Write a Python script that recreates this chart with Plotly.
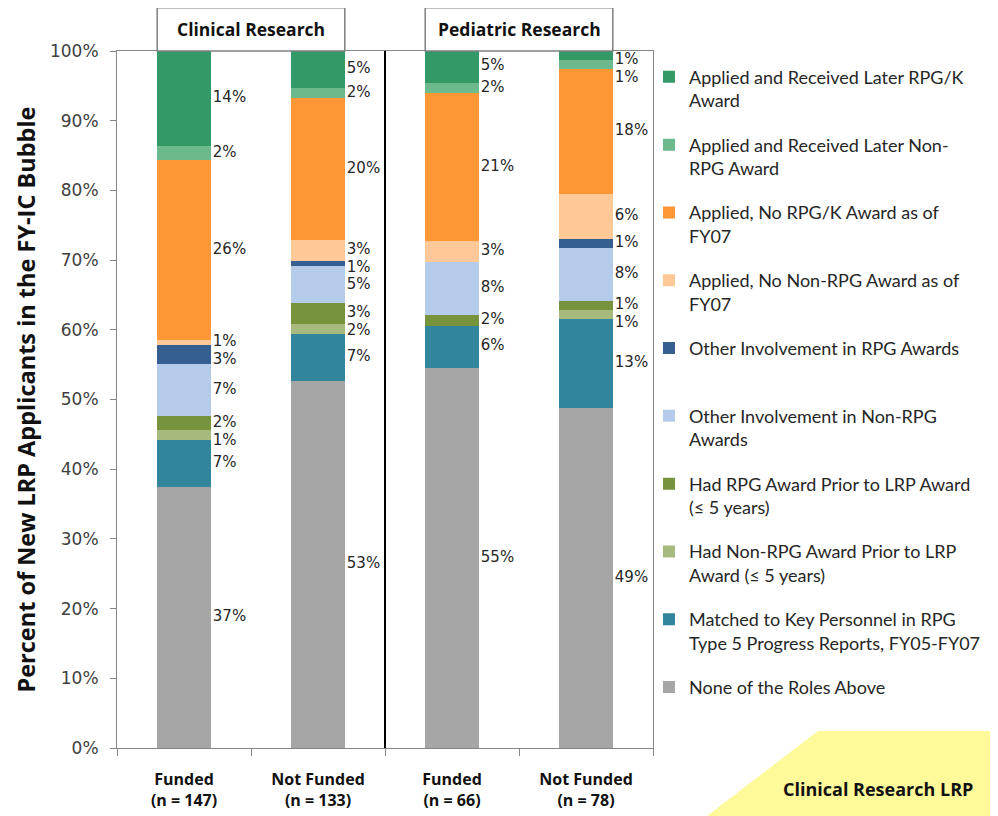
import plotly.graph_objects as go

# ---------------- data ----------------
groups = ["Funded", "Not Funded", "Funded", "Not Funded"]
n_values = [147, 133, 66, 78]
panels = ["Clinical Research", "Pediatric Research"]

# series listed bottom -> top of each stack (percent of applicants)
none_roles = [37.41, 52.63, 54.55, 48.72]
matched_key = [6.80, 6.77, 6.06, 12.82]
nonrpg_prior = [1.36, 1.504, 0, 1.28]
rpg_prior = [2.04, 3.01, 1.52, 1.28]
other_nonrpg = [7.48, 5.26, 7.58, 7.69]
other_rpg = [2.72, 0.75, 0, 1.28]
applied_no_nonrpg = [0.68, 3.01, 3.03, 6.41]
applied_no_rpg = [25.85, 20.30, 21.21, 17.95]
received_nonrpg = [2.04, 1.504, 1.52, 1.28]
received_rpg = [13.61, 5.26, 4.55, 1.28]

series_names = [
    "None of the Roles Above",
    "Matched to Key Personnel in RPG<br>Type 5 Progress Reports, FY05-FY07",
    "Had Non-RPG Award Prior to LRP<br>Award (\u2264 5 years)",
    "Had RPG Award Prior to LRP Award<br>(\u2264 5 years)",
    "Other Involvement in Non-RPG<br>Awards",
    "Other Involvement in RPG Awards",
    "Applied, No Non-RPG Award as of<br>FY07",
    "Applied, No RPG/K Award as of<br>FY07",
    "Applied and Received Later Non-<br>RPG Award",
    "Applied and Received Later RPG/K<br>Award",
]
series_values = [none_roles, matched_key, nonrpg_prior, rpg_prior, other_nonrpg,
                 other_rpg, applied_no_nonrpg, applied_no_rpg, received_nonrpg, received_rpg]
series_colors = ["#A6A6A6", "#31859C", "#A6BA7E", "#77933C", "#B4CCE9",
                 "#355F91", "#FFC896", "#FD9634", "#6DB98E", "#339966"]

categories = [f"{g}<br>(n = {n})" for g, n in zip(groups, n_values)]

# ---------------- figure ----------------
fig = go.Figure()
n_series = len(series_names)
for idx, (name, vals, col) in enumerate(zip(series_names, series_values, series_colors)):
    legend_name = name if "<br>" in name else name + "<br>\u00a0"
    fig.add_trace(go.Bar(
        x=categories, y=vals, name=legend_name, legendgroup=f"g{idx}",
        legendrank=100 + (n_series - idx),
        marker=dict(color=col, line=dict(width=0)), width=0.4,
        hoverinfo="skip",
    ))

# data labels to the right of each bar, nudged apart when crowded
lab_x, lab_y, lab_t = [], [], []
min_gap = 2.55
top_cap = 98.7
for i in range(len(categories)):
    cum = 0.0
    items = []
    for vals in series_values:
        v = vals[i]
        if v > 0:
            items.append([cum + v / 2.0, f"{v:.0f}%"])
        cum += v
    items.sort(key=lambda it: -it[0])
    items[0][0] = min(items[0][0], top_cap)
    for k in range(1, len(items)):
        if items[k - 1][0] - items[k][0] < min_gap:
            items[k][0] = items[k - 1][0] - min_gap
    for yy, tt in items:
        lab_x.append(i + 0.215)
        lab_y.append(yy)
        lab_t.append(tt)

fig.add_trace(go.Scatter(
    x=lab_x, y=lab_y, text=lab_t, mode="text", xaxis="x2",
    textposition="middle right",
    textfont=dict(family="DejaVu Sans", size=15, color="#262626"),
    showlegend=False, hoverinfo="skip",
))

# divider between the two panels
fig.add_shape(type="line", xref="x2", yref="y", x0=1.5, x1=1.5, y0=0, y1=100,
              line=dict(color="black", width=2))

# panel header boxes
for p, name in enumerate(panels):
    x0 = 2 * p - 0.2
    x1 = 2 * p + 1.2
    fig.add_shape(type="rect", xref="x2", yref="paper", x0=x0, x1=x1, y0=1.0, y1=1.062,
                  line=dict(color="#808080", width=1.5), fillcolor="white")
    fig.add_annotation(xref="x2", yref="paper", x=(x0 + x1) / 2, y=1.031,
                       xanchor="center", yanchor="middle",
                       text=f"<b>{name}</b>", showarrow=False,
                       font=dict(family="Open Sans", size=17.5, color="#111111"))

# y-axis title
fig.add_annotation(xref="paper", yref="paper", x=-0.1716, y=0.5, textangle=-90,
                   xanchor="center", yanchor="middle",
                   text="<b>Percent of New LRP Applicants in the FY-IC Bubble</b>",
                   showarrow=False, font=dict(family="Open Sans", size=23.5, color="#111111"))

# yellow callout at bottom right
fig.add_shape(type="path", xref="paper", yref="paper",
              path="M 1.1007 -0.0976 L 1.3078 0.0244 L 1.70 0.0244 L 1.70 -0.14 L 1.1007 -0.14 Z",
              fillcolor="#FEFA9A", line=dict(width=0), layer="below")
fig.add_annotation(xref="paper", yref="paper", x=1.2385, y=-0.059,
                   xanchor="left", yanchor="middle",
                   text="<b>Clinical Research LRP</b>", showarrow=False,
                   font=dict(family="Open Sans", size=18, color="#111111"))

fig.update_layout(
    width=990, height=808,
    margin=dict(l=109, r=345, t=43, b=68, autoexpand=False),
    paper_bgcolor="white", plot_bgcolor="white",
    barmode="stack", bargap=0.6,
    xaxis=dict(
        type="category", range=[-0.5, 3.5], automargin=False,
        showline=True, linecolor="#868686", linewidth=1, mirror=True,
        ticks="outside", tickson="boundaries", ticklen=7, tickcolor="#868686",
        tickfont=dict(family="Open Sans", size=16, color="#111111", weight="bold"),
        ticklabelstandoff=17, showgrid=False,
    ),
    xaxis2=dict(overlaying="x", range=[-0.5, 3.5], visible=False),
    yaxis=dict(
        range=[0, 100], dtick=10, ticksuffix="%", automargin=False,
        showline=True, linecolor="#868686", linewidth=1, mirror=True,
        ticks="outside", ticklen=6, tickcolor="#868686",
        tickfont=dict(family="DejaVu Sans", size=17, color="#404040"),
        ticklabelstandoff=8, showgrid=False, zeroline=False,
    ),
    legend=dict(
        x=0.9925, xanchor="left", y=0.989, yanchor="top",
        traceorder="grouped", tracegroupgap=18, valign="top",
        font=dict(family="Lato", size=18, color="#262626"),
        bgcolor="rgba(0,0,0,0)",
    ),
    showlegend=True,
)

fig.write_html("out.html")
